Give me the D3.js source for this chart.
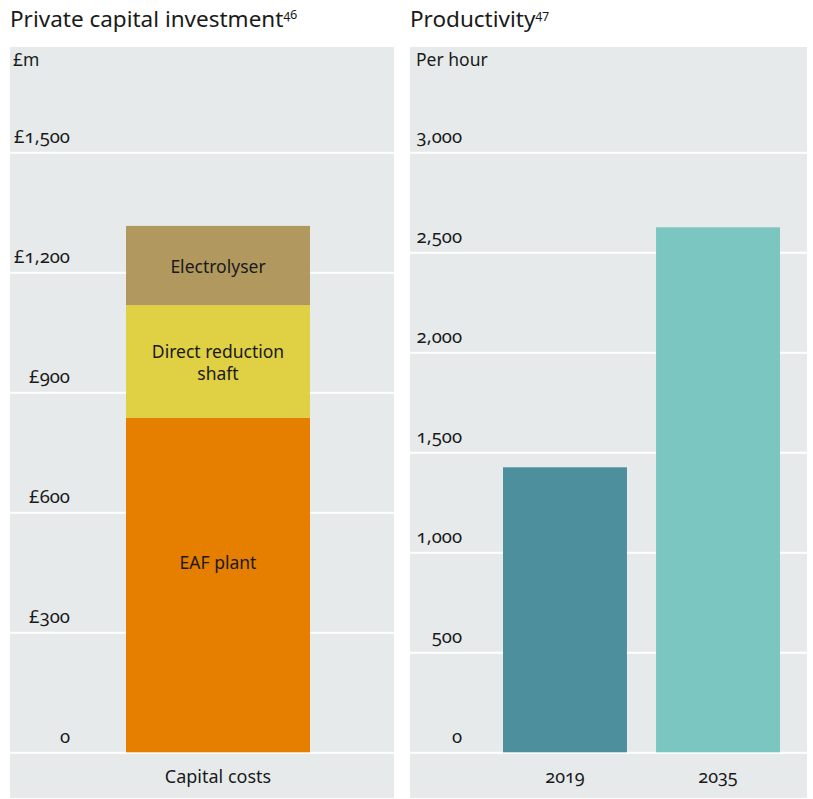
<!DOCTYPE html>
<html>
<head>
<meta charset="utf-8">
<script src="https://cdn.jsdelivr.net/npm/d3@7"></script>
<style>
  html, body { margin: 0; padding: 0; background: #fff; }
  svg text { font-family: "Noto Sans", "Open Sans", sans-serif; fill: #1a1a1a; }
  .num { font-variant-numeric: oldstyle-nums; font-feature-settings: "onum" 1; }
</style>
</head>
<body>
<svg id="chart" width="813" height="799"></svg>
<script>
// Capital cost components (£m), stacked bottom to top
const costCategories = ["Capital costs"];
const costComponents = ["EAF plant", "Direct reduction shaft", "Electrolyser"];
const costValues = [836, 282, 198];
const costTicks = [0, 300, 600, 900, 1200, 1500];
const costTickLabels = ["0", "£300", "£600", "£900", "£1,200", "£1,500"];

// Productivity per hour
const prodYears = ["2019", "2035"];
const prodValues = [1425, 2625];
const prodTicks = [0, 500, 1000, 1500, 2000, 2500, 3000];
const prodTickLabels = ["0", "500", "1,000", "1,500", "2,000", "2,500", "3,000"];

const svg = d3.select("#chart");
const panelBg = "#e6eaea";
const gridColor = "#ffffff";
const zeroY = 752.3, topY = 152.3;
const panelTop = 47, panelBottom = 798;

function panel(opts) {
  const g = svg.append("g");
  // title with superscript note number
  const t = g.append("text")
    .attr("x", opts.x0)
    .attr("y", 27)
    .style("font-size", "22.5px");
  t.append("tspan").text(opts.title);
  t.append("tspan").attr("class", "num").attr("dy", -8).style("font-size", "12.5px").text(opts.note);

  g.append("rect")
    .attr("x", opts.x0).attr("y", panelTop)
    .attr("width", opts.x1 - opts.x0).attr("height", panelBottom - panelTop)
    .attr("fill", panelBg);

  g.append("text")
    .attr("x", opts.x0 + opts.unitDx).attr("y", 66)
    .style("font-size", "17.5px")
    .text(opts.unit);

  const y = d3.scaleLinear().domain([0, opts.max]).range([zeroY, topY]);

  const axis = d3.axisLeft(y)
    .tickValues(opts.ticks)
    .tickSize(-(opts.x1 - opts.x0))
    .tickFormat((d, i) => opts.tickLabels[i]);

  const ax = g.append("g")
    .attr("transform", `translate(${opts.x0},0)`)
    .call(axis);
  ax.select(".domain").remove();
  ax.selectAll(".tick line").attr("stroke", gridColor).attr("stroke-width", 2);
  ax.selectAll(".tick text")
    .attr("class", "num")
    .attr("x", opts.labelRight - opts.x0)
    .attr("y", -10)
    .attr("dy", 0)
    .attr("text-anchor", "end")
    .style("font-size", "18.5px")
    .style("font-family", "\"Noto Sans\", \"Open Sans\", sans-serif")
    .attr("fill", "#1a1a1a");

  return { g, y };
}

// Left panel: stacked capital costs
{
  const { g, y } = panel({
    x0: 10, x1: 394, title: "Private capital investment", note: "46",
    unit: "£m", unitDx: 3, max: 1500, ticks: costTicks, tickLabels: costTickLabels,
    labelRight: 70
  });
  const x = d3.scaleBand().domain(costCategories).range([126, 310]).paddingInner(0).paddingOuter(0);
  const colors = d3.scaleOrdinal().domain(costComponents).range(["#e67f00", "#dfd044", "#b1985e"]);
  const row = {};
  costComponents.forEach((c, i) => row[c] = costValues[i]);
  const stack = d3.stack().keys(costComponents)([row]);
  const labelLines = { "EAF plant": ["EAF plant"], "Direct reduction shaft": ["Direct reduction", "shaft"], "Electrolyser": ["Electrolyser"] };
  const labelShift = { "EAF plant": -22, "Direct reduction shaft": 1, "Electrolyser": 1 };

  stack.forEach(layer => {
    const d = layer[0];
    g.append("rect")
      .attr("x", x(costCategories[0]))
      .attr("width", x.bandwidth())
      .attr("y", y(d[1]))
      .attr("height", y(d[0]) - y(d[1]))
      .attr("fill", colors(layer.key));
    const lines = labelLines[layer.key];
    const cy = (y(d[0]) + y(d[1])) / 2 + labelShift[layer.key];
    const lh = 22;
    const txt = g.append("text")
      .attr("text-anchor", "middle")
      .style("font-size", "17.5px");
    lines.forEach((l, i) => {
      txt.append("tspan")
        .attr("x", x(costCategories[0]) + x.bandwidth() / 2)
        .attr("y", cy + 6 + (i - (lines.length - 1) / 2) * lh)
        .text(l);
    });
  });

  g.selectAll(".cat").data(costCategories).enter().append("text")
    .attr("x", d => x(d) + x.bandwidth() / 2)
    .attr("y", 783)
    .attr("text-anchor", "middle")
    .style("font-size", "18px")
    .text(d => d);
}

// Right panel: productivity
{
  const { g, y } = panel({
    x0: 410, x1: 807, title: "Productivity", note: "47",
    unit: "Per hour", unitDx: 6, max: 3000, ticks: prodTicks, tickLabels: prodTickLabels,
    labelRight: 462
  });
  const x = d3.scaleBand().domain(prodYears).range([503, 780]).paddingInner(0.19).paddingOuter(0);
  const colors = ["#4e8f9e", "#7bc6c0"];
  g.selectAll(".bar").data(prodValues).enter().append("rect")
    .attr("x", (d, i) => x(prodYears[i]))
    .attr("width", x.bandwidth())
    .attr("y", d => y(d))
    .attr("height", d => y(0) - y(d))
    .attr("fill", (d, i) => colors[i]);
  g.selectAll(".cat").data(prodYears).enter().append("text")
    .attr("class", "num")
    .attr("x", d => x(d) + x.bandwidth() / 2)
    .attr("y", 783)
    .attr("text-anchor", "middle")
    .style("font-size", "18px")
    .text(d => d);
}
</script>
</body>
</html>
